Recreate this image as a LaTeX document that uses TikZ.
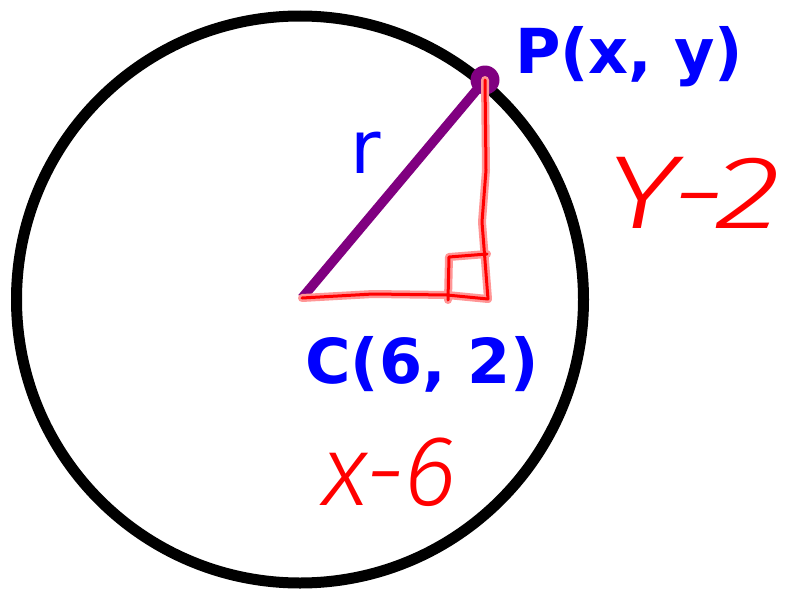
\documentclass[tikz,border=0pt]{standalone}
\usepackage{fontspec}
\setmainfont{DejaVu Sans}
\newfontfamily\handfont{Fira Sans Light Italic}
\definecolor{pur}{RGB}{128,0,128}
\definecolor{lbl}{RGB}{0,0,255}
\definecolor{hred}{RGB}{255,0,0}
\definecolor{hglow}{RGB}{255,150,150}
\begin{document}
\begin{tikzpicture}[x=1pt,y=-1pt,
  redglow/.style={draw=hglow, line width=8pt, line join=round, line cap=round},
  redline/.style={draw=hred, line width=3pt, line join=round, line cap=round},
  bluelbl/.style={text=lbl, inner sep=0pt, anchor=base, font=\fontsize{62}{62}\selectfont\bfseries},
  rlbl/.style={text=lbl, inner sep=0pt, anchor=base, font=\fontsize{74}{74}\selectfont},
  handlbl/.style={text=hred, inner sep=0pt, anchor=base}]
\useasboundingbox (0,0) rectangle (793,589);
\fill[white] (0,0) rectangle (793,589);
% geometry
\coordinate (C) at (302,298);
\coordinate (P) at (485,80);
\coordinate (R) at (488,299);
\coordinate (Sa) at (448,300);
\coordinate (Sb) at (449,257);
\coordinate (Sc) at (487,254);
% circle
\node[draw, circle, line width=11pt, minimum size=567pt, inner sep=0pt] (ring) at (300,299.5) {};
% radius
\draw[pur, line width=9.5pt] (C) -- (P);
\fill[pur] (P) circle (14.5pt);
% red triangle legs (glow then stroke)
\foreach \s in {redglow, redline} {
  \draw[\s] (C) -- (373,294) -- (447,295) -- (R);
  \draw[\s] (R) -- (482,222) -- (486,170) -- (P);
  \draw[\s] (Sa) -- (Sb) -- (Sc);
}
% labels
\node[bluelbl] (Plbl) at (629,73) {P(x, y)};
\node[bluelbl] (Clbl) at (422,383) {C(6, 2)};
\node[rlbl] (rlbl) at (366,173) {r};
\node[handlbl, font=\handfont\fontsize{104}{104}\selectfont] (ylbl) at (694,228) {\scalebox{1.32}[1]{Y-2}};
\node[handlbl, font=\handfont\fontsize{100}{100}\selectfont] (xlbl) at (390,505) {x-6};
\end{tikzpicture}
\end{document}
